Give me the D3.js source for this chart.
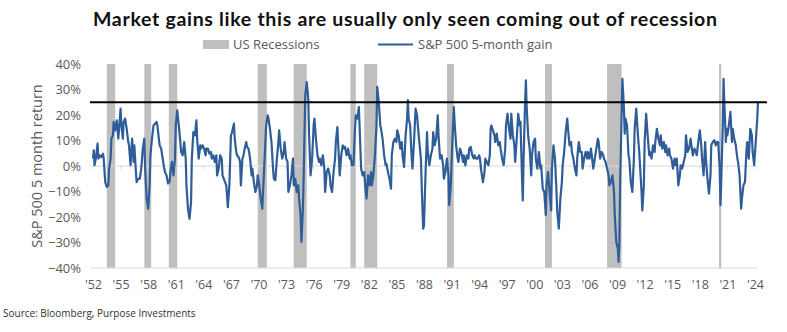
<!DOCTYPE html>
<html><head><meta charset="utf-8">
<script src="https://cdn.jsdelivr.net/npm/d3@7"></script>
<style>body{margin:0;background:#fff;} svg{display:block;}</style>
</head><body>
<svg id="chart" width="787" height="332"></svg>
<script>
const chartTitle = "Market gains like this are usually only seen coming out of recession";
const legendLabels = ["US Recessions", "S&P 500 5-month gain"];
const yAxisTitle = "S&P 500 5 month return";
const sourceNote = "Source: Bloomberg, Purpose Investments";
const threshold = 0.25;
const yTickValues = [-0.4, -0.3, -0.2, -0.1, 0, 0.1, 0.2, 0.3, 0.4];
const xTickYears = d3.range(1952, 2025, 3);
const recessionStarts = ["1953-07","1957-08","1960-04","1969-12","1973-11","1980-01","1981-07","1990-07","2001-03","2007-12","2020-02"];
const recessionEnds   = ["1954-05","1958-04","1961-02","1970-11","1975-03","1980-07","1982-11","1991-03","2001-11","2009-06","2020-04"];
// [months since Jan 1952, 5-month gain in %]
const gain5m = [
[0,2.9],[1,6.1],[2,0.3],[4,3.5],[6,8.8],[7,2.9],[9,4.2],[11,3.5],[13,4.8],[14,2.9],
[16,-6.3],[18,-8.2],[20,-7.6],[21,-1.0],[23,2.9],[24,10.7],[26,12.0],[27,17.3],[29,14.0],[31,17.9],
[33,10.7],[34,14.6],[36,22.5],[37,15.9],[39,10.7],[40,17.3],[42,18.6],[44,14.6],[46,9.4],[47,8.1],
[49,0.3],[51,10.7],[53,1.6],[54,8.1],[56,-2.4],[57,-6.3],[59,-5.0],[61,-5.0],[63,-1.0],[65,6.8],
[67,10.7],[68,-1.0],[70,-12.8],[72,-16.7],[74,-7.6],[75,4.2],[77,10.7],[79,15.9],[81,16.6],[83,17.3],
[84,15.9],[86,10.7],[87,8.1],[89,6.8],[91,2.9],[93,-1.0],[94,-2.4],[96,-3.7],[98,-6.9],[100,-6.3],
[101,-2.4],[103,1.6],[105,-3.7],[107,2.9],[108,15.9],[110,21.8],[112,15.9],[114,9.4],[115,5.5],[117,4.2],
[119,9.4],[121,2.9],[122,-7.6],[124,-16.7],[126,-20.7],[128,-14.1],[129,2.9],[131,13.3],[133,12.0],[135,17.9],
[136,10.7],[138,2.9],[140,8.1],[141,6.8],[143,8.1],[145,6.8],[147,4.2],[148,6.8],[150,6.8],[152,4.8],
[154,5.5],[155,2.9],[157,4.2],[159,1.6],[161,4.2],[162,-3.7],[164,-1.0],[166,4.2],[168,2.9],[169,-3.7],
[174,-7.6],[176,-16.1],[178,-7.6],[180,12.0],[181,12.7],[184,16.6],[185,10.7],[187,5.5],[188,4.2],[190,3.5],
[192,1.6],[193,-7.6],[195,2.9],[196,3.5],[198,6.8],[200,9.4],[201,7.5],[203,6.8],[205,2.9],[207,-3.7],
[208,-1.0],[210,-6.3],[212,-10.2],[214,-7.6],[215,-3.7],[217,-7.6],[219,-12.8],[221,-16.7],[222,-10.2],[224,2.9],
[226,15.9],[228,19.9],[229,18.6],[231,14.6],[233,9.4],[235,-1.0],[236,-5.0],[238,-5.6],[240,2.9],[242,9.4],
[243,14.0],[245,6.8],[247,2.9],[249,5.5],[250,9.4],[252,2.9],[254,1.6],[255,-10.2],[257,-7.6],[259,-3.7],
[261,2.9],[262,-7.6],[264,-5.0],[266,-10.2],[268,-7.6],[269,-12.8],[271,-19.3],[272,-29.8],[274,-16.7],[275,-3.7],
[277,27.7],[279,32.9],[281,26.4],[282,12.7],[284,-3.7],[286,2.9],[288,15.9],[289,18.6],[291,10.7],[293,4.2],
[295,1.6],[296,2.9],[298,0.3],[300,4.2],[302,-1.0],[303,-10.2],[305,-2.4],[307,-1.0],[309,-3.7],[310,-7.6],
[312,-10.2],[314,-2.4],[316,2.9],[317,9.4],[319,15.3],[321,2.9],[322,-3.7],[324,4.2],[326,8.1],[328,6.8],
[329,7.5],[331,4.2],[333,6.8],[335,2.9],[336,4.2],[338,0.3],[340,0.3],[342,14.6],[343,19.9],[345,18.6],
[347,23.1],[349,6.8],[350,-1.0],[352,-3.7],[354,-2.4],[356,-10.2],[357,-12.8],[359,-3.7],[361,-7.6],[363,-2.4],
[364,-7.6],[366,-3.7],[368,4.2],[370,15.9],[371,31.0],[373,25.1],[375,15.9],[376,14.6],[378,10.7],[380,4.2],
[382,0.3],[383,0.9],[385,-2.4],[387,-5.0],[389,-8.9],[390,4.2],[392,9.4],[394,10.7],[396,9.4],[397,14.0],
[399,12.0],[401,6.8],[403,9.4],[404,4.2],[406,-0.4],[408,12.0],[410,18.6],[411,25.8],[412,18.6],[414,15.9],
[416,2.9],[417,-1.0],[419,9.4],[421,22.5],[423,19.9],[424,15.9],[426,9.4],[428,2.9],[430,-16.7],[431,-24.6],
[432,-23.3],[434,-3.7],[436,13.3],[437,5.5],[439,0.3],[441,4.2],[443,6.8],[444,13.3],[446,8.1],[448,10.7],
[450,19.9],[451,12.0],[453,2.9],[455,4.2],[457,0.3],[458,-5.0],[460,-2.4],[462,2.9],[464,-3.7],[465,-15.4],
[467,-7.6],[469,9.4],[471,23.1],[472,17.3],[474,8.1],[476,2.9],[477,1.6],[479,6.8],[481,4.8],[483,1.6],
[484,4.2],[486,0.3],[488,4.2],[490,2.9],[491,6.8],[493,7.5],[495,4.2],[497,2.9],[498,4.2],[500,2.9],
[502,2.9],[504,4.2],[505,2.9],[507,-2.4],[509,-6.3],[511,-2.4],[512,2.9],[514,1.6],[516,0.3],[518,4.2],
[519,14.6],[520,15.9],[522,14.0],[524,12.0],[525,9.4],[527,12.7],[529,8.1],[531,9.4],[532,6.8],[534,2.9],
[536,0.3],[538,6.8],[539,15.9],[541,20.5],[543,14.6],[545,10.7],[546,20.5],[548,12.0],[550,8.1],[551,1.6],
[553,10.7],[555,20.5],[557,15.9],[558,17.3],[560,-5.0],[561,-13.5],[562,2.9],[564,25.1],[565,33.6],[566,23.8],
[568,12.0],[570,6.8],[572,-3.7],[573,4.2],[575,9.4],[577,10.7],[578,2.9],[580,-1.0],[582,5.5],[584,-1.0],
[585,0.3],[587,-8.9],[589,-10.2],[591,-19.3],[592,-7.6],[594,-2.4],[596,-10.2],[598,-17.4],[599,-1.0],[601,8.1],
[603,2.9],[605,-10.2],[606,-18.0],[608,-24.6],[610,-12.8],[612,-6.3],[613,0.3],[615,5.5],[617,13.3],[619,18.6],
[620,14.6],[622,8.1],[624,9.4],[625,5.5],[627,2.9],[629,-1.0],[631,-3.7],[632,2.9],[634,9.4],[636,5.5],
[638,5.5],[639,-1.0],[641,2.9],[643,5.5],[645,2.9],[646,5.5],[648,2.9],[650,6.8],[652,1.6],[653,-1.0],
[655,2.9],[657,6.8],[659,10.7],[660,9.4],[662,2.9],[664,5.5],[666,4.2],[667,2.9],[669,1.6],[671,-1.0],
[673,-3.7],[674,-7.6],[676,-6.3],[678,-3.7],[680,-10.2],[681,-19.3],[683,-29.8],[685,-32.4],[686,-37.6],[687,-31.1],
[688,-7.6],[690,19.9],[691,34.2],[693,22.5],[694,12.7],[695,18.6],[697,15.9],[699,4.2],[700,2.9],[702,-6.3],
[704,-10.2],[706,2.9],[707,14.6],[709,22.5],[711,13.3],[713,5.5],[714,0.3],[716,-10.2],[717,-17.4],[719,-7.6],
[720,9.4],[722,20.5],[724,12.0],[726,4.2],[727,5.5],[729,2.9],[731,8.1],[733,5.5],[734,9.4],[736,14.6],
[738,10.7],[740,8.1],[741,12.0],[743,6.8],[745,9.4],[747,5.5],[748,8.1],[750,4.2],[752,6.8],[753,4.2],
[755,2.9],[757,-1.0],[759,2.9],[760,0.3],[762,2.9],[764,-7.6],[766,-3.7],[767,0.3],[769,-1.0],[771,1.6],
[773,4.2],[774,12.0],[776,5.5],[778,6.8],[780,10.7],[781,8.1],[783,4.2],[785,6.8],[787,5.5],[788,4.2],
[790,9.4],[792,14.0],[794,8.1],[795,2.9],[797,-3.7],[799,9.4],[800,2.9],[802,-5.0],[804,-10.8],[806,-3.7],
[807,8.1],[809,9.4],[811,10.1],[813,8.1],[814,9.4],[816,9.4],[818,-1.0],[819,-15.4],[820,-6.3],[822,15.9],
[823,34.2],[824,25.1],[826,9.4],[827,14.6],[828,12.0],[830,15.9],[832,21.2],[834,9.4],[835,14.6],[837,10.7],
[839,8.1],[841,2.9],[842,1.6],[844,-3.7],[846,-16.7],[847,-12.8],[849,-7.6],[851,-6.3],[853,6.8],[854,9.4],
[856,2.9],[858,14.6],[860,12.0],[861,5.5],[863,0.3],[865,9.4],[867,18.6],[868,25.1]
];

const svg = d3.select("#chart");
const parseYM = d3.timeParse("%Y-%m");
const monthDate = m => new Date(1952, m, 1);

const x = d3.scaleTime().domain([new Date(1952,0,1), new Date(2024,4,1)]).range([93, 758]);
const y = d3.scaleLinear().domain([-0.4, 0.4]).range([268, 64]);
const [xl, xr] = x.range();
const labelColor = "#595959";
const lineColor = "#2f5d98";

// Title
svg.append("text").attr("x", 405).attr("y", 26).attr("text-anchor", "middle")
  .attr("font-family", "Lato, 'Open Sans', sans-serif").attr("font-weight", 700).attr("font-size", 19.5)
  .attr("fill", "#111").attr("textLength", 624).attr("lengthAdjust", "spacing").text(chartTitle);

// Legend
const lg = svg.append("g").attr("font-family", "'Open Sans', sans-serif").attr("font-size", 13).attr("fill", labelColor);
lg.append("rect").attr("x", 203).attr("y", 40).attr("width", 26).attr("height", 9).attr("fill", "#bfbfbf");
lg.append("text").attr("x", 233).attr("y", 49).text(legendLabels[0]);
lg.append("line").attr("x1", 378).attr("x2", 413).attr("y1", 44.5).attr("y2", 44.5).attr("stroke", lineColor).attr("stroke-width", 2.2);
lg.append("text").attr("x", 418).attr("y", 49).text(legendLabels[1]);

// Recession bars
const recessions = recessionStarts.map((s, i) => ({start: parseYM(s), end: d3.timeMonth.offset(parseYM(recessionEnds[i]), 1)}));
svg.append("g").selectAll("rect").data(recessions).join("rect")
  .attr("x", d => x(d.start)).attr("width", d => x(d.end) - x(d.start))
  .attr("y", y(0.4)).attr("height", y(-0.4) - y(0.4)).attr("fill", "#bfbfbf");

// Bottom axis line and zero line
svg.append("line").attr("x1", xl - 3).attr("x2", xr).attr("y1", y(-0.4)).attr("y2", y(-0.4)).attr("stroke", "#d9d9d9").attr("stroke-width", 1);
svg.append("line").attr("x1", xl - 3).attr("x2", xr).attr("y1", y(0)).attr("y2", y(0)).attr("stroke", "#d9d9d9").attr("stroke-width", 1);
svg.append("g").selectAll("line").data(xTickYears).join("line")
  .attr("x1", d => x(new Date(d,0,1))).attr("x2", d => x(new Date(d,0,1)))
  .attr("y1", y(0)).attr("y2", y(0) + 3).attr("stroke", "#d9d9d9");

// Y axis
const yAxis = d3.axisLeft(y).tickValues(yTickValues).tickSize(0).tickPadding(12).tickFormat(d3.format(".0%"));
const gy = svg.append("g").attr("transform", `translate(${xl},0)`).call(yAxis);
gy.select(".domain").remove();
gy.selectAll("text").attr("font-family", "'Open Sans', sans-serif").attr("font-size", 13).attr("fill", labelColor);

// X axis labels
const xAxis = d3.axisBottom(x).tickValues(xTickYears.map(yr => new Date(yr,0,1))).tickSize(0).tickPadding(12)
  .tickFormat(d => "'" + d3.timeFormat("%y")(d));
const gx = svg.append("g").attr("transform", `translate(0,${y(-0.4)})`).call(xAxis);
gx.select(".domain").remove();
gx.selectAll("text").attr("font-family", "'Open Sans', sans-serif").attr("font-size", 12.5).attr("fill", labelColor);

// Y title
svg.append("text").attr("transform", `translate(42,${(y(0.4)+y(-0.4))/2}) rotate(-90)`).attr("text-anchor", "middle")
  .attr("font-family", "'Open Sans', sans-serif").attr("font-size", 14.5).attr("fill", labelColor).text(yAxisTitle);

// Series line
const line = d3.line().x(d => x(monthDate(d[0]))).y(d => y(d[1] / 100)).curve(d3.curveLinear);
svg.append("path").datum(gain5m).attr("d", line).attr("fill", "none")
  .attr("stroke", lineColor).attr("stroke-width", 2.2).attr("stroke-linejoin", "round");

// Threshold line
svg.append("line").attr("x1", xl - 3).attr("x2", xr + 9).attr("y1", y(threshold)).attr("y2", y(threshold))
  .attr("stroke", "#000").attr("stroke-width", 2);

// Source
svg.append("text").attr("x", 3).attr("y", 317).attr("font-family", "'Open Sans', sans-serif").attr("font-size", 10)
  .attr("fill", "#333").text(sourceNote);
</script>
</body></html>
